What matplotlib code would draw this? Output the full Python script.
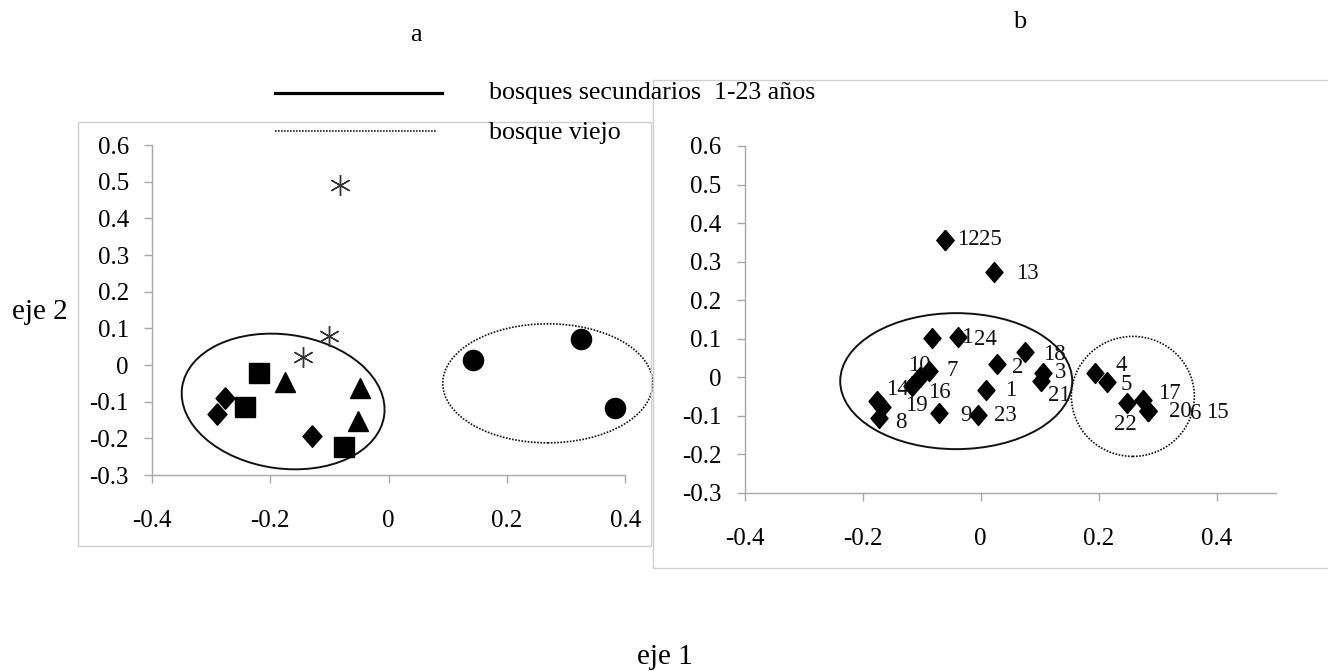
import matplotlib.pyplot as plt
from matplotlib.patches import Ellipse, Rectangle
from matplotlib.lines import Line2D
from matplotlib.transforms import ScaledTranslation

plt.rcParams['font.family'] = ['Liberation Serif', 'DejaVu Serif']

# panel a: groups of sites
star_x = [-0.082, -0.100, -0.145]
star_y = [0.491, 0.079, 0.023]
square_x = [-0.219, -0.242, -0.075]
square_y = [-0.023, -0.114, -0.223]
triangle_x = [-0.174, -0.048, -0.051]
triangle_y = [-0.047, -0.062, -0.152]
diamond_x = [-0.276, -0.289, -0.129]
diamond_y = [-0.091, -0.134, -0.194]
circle_x = [0.142, 0.325, 0.383]
circle_y = [0.014, 0.070, -0.116]

# panel b: labelled sites
b_labels = ['1', '2', '3', '4', '5', '6', '7', '8', '9', '10', '11', '12', '13',
            '14', '15', '16', '17', '18', '19', '20', '21', '22', '23', '24', '25']
b_x = [0.009, 0.028, 0.105, 0.194, 0.214, 0.283, -0.088, -0.173, -0.071, -0.102,
       -0.083, -0.060, 0.022, -0.175, 0.283, -0.116, 0.275, 0.075, -0.167, 0.283,
       0.102, 0.248, -0.005, -0.039, -0.060]
b_y = [-0.033, 0.034, 0.012, 0.012, -0.013, -0.087, 0.017, -0.105, -0.094, 0.000,
       0.102, 0.357, 0.273, -0.061, -0.087, -0.024, -0.059, 0.065, -0.077, -0.087,
       -0.009, -0.068, -0.098, 0.104, 0.357]

y_ticks = [-0.3, -0.2, -0.1, 0, 0.1, 0.2, 0.3, 0.4, 0.5, 0.6]
x_ticks = [-0.4, -0.2, 0, 0.2, 0.4]

# label offsets in pixels (right, down); default is a bit to the right
label_offset = {
    '12': (12, 0), '25': (34, 0), '11': (20, 0), '24': (16, 2), '13': (22, 2),
    '18': (18, 2), '2': (15, 3), '3': (12, 0), '21': (7, 15), '1': (19, 1),
    '23': (16, 1), '9': (21, 2), '7': (18, 0), '10': (-12, -12), '16': (16, 6),
    '14': (9, -11), '19': (23, -1), '8': (17, 5), '4': (20, -7), '5': (13, 2),
    '22': (-13, 21), '17': (15, -6), '20': (21, 1), '6': (42, 3), '15': (58, 2),
}

W, H = 1328, 671
fig = plt.figure(figsize=(W / 100, H / 100), dpi=100)

AXIS_GREY = '#a8a8a8'
FRAME_GREY = '#cfcfcf'


def fx(px):
    return px / W


def fy(py):
    return 1 - py / H


# panel frames
fig.patches.append(Rectangle((fx(78), fy(546)), fx(651) - fx(78), fy(122) - fy(546),
                             transform=fig.transFigure, fill=False,
                             edgecolor=FRAME_GREY, lw=1.0))
fig.patches.append(Rectangle((fx(653), fy(568)), fx(1400) - fx(653), fy(79.5) - fy(568),
                             transform=fig.transFigure, fill=False,
                             edgecolor=FRAME_GREY, lw=1.0))


def style_axes(ax, xmax):
    ax.set_xlim(-0.4, xmax)
    ax.set_ylim(-0.3, 0.6)
    ax.set_xticks(x_ticks)
    ax.set_yticks(y_ticks)
    ax.set_xticklabels(['%g' % t for t in x_ticks])
    ax.set_yticklabels(['%g' % t for t in y_ticks])
    for s in ['top', 'right']:
        ax.spines[s].set_visible(False)
    for s in ['left', 'bottom']:
        ax.spines[s].set_color(AXIS_GREY)
        ax.spines[s].set_linewidth(1.0)
    ax.tick_params(axis='both', direction='out', length=5.5, width=1.0,
                   color=AXIS_GREY, labelsize=18)
    ax.tick_params(axis='y', pad=11)
    ax.tick_params(axis='x', pad=20)
    ax.patch.set_alpha(0)


def add_ellipse(ax, cx, cy, w_px, h_px, angle, dotted):
    tr = fig.dpi_scale_trans + ScaledTranslation(cx, cy, ax.transData)
    e = Ellipse((0, 0), w_px / 100, h_px / 100, angle=angle, transform=tr,
                fill=False, edgecolor='#111111', clip_on=False,
                lw=1.2 if dotted else 1.4,
                linestyle=(0, (1, 0.9)) if dotted else '-')
    ax.add_patch(e)


# ---- panel a
ax_a = fig.add_axes([fx(151.7), fy(475), fx(625.3) - fx(151.7), fy(145) - fy(475)])
style_axes(ax_a, 0.4)

diamond_a = [(0, 1), (0.88, 0), (0, -1), (-0.88, 0), (0, 1)]
ax_a.plot(star_x, star_y, linestyle='none', marker=(6, 2, 0), markersize=15,
          markeredgecolor='#333333', markeredgewidth=1.0, clip_on=False)
ax_a.plot(square_x, square_y, linestyle='none', marker='s', markersize=14.5,
          color='black', clip_on=False)
ax_a.plot(triangle_x, triangle_y, linestyle='none', marker='^', markersize=14,
          color='black', clip_on=False)
ax_a.plot(diamond_x, diamond_y, linestyle='none', marker=diamond_a, markersize=15.5,
          color='black', clip_on=False)
ax_a.plot(circle_x, circle_y, linestyle='none', marker='o', markersize=14.5,
          color='black', clip_on=False)

add_ellipse(ax_a, -0.178, -0.0995, 204, 134, -8, dotted=False)
add_ellipse(ax_a, 0.269, -0.050, 210, 119, 0, dotted=True)

# ---- panel b
ax_b = fig.add_axes([fx(744.5), fy(492.7), fx(1276) - fx(744.5), fy(146) - fy(492.7)])
style_axes(ax_b, 0.5)

diamond_b = [(0, 1), (0.85, 0), (0, -1), (-0.85, 0), (0, 1)]
ax_b.plot(b_x, b_y, linestyle='none', marker=diamond_b, markersize=14.4,
          color='black', clip_on=False)
for lab, x, y in zip(b_labels, b_x, b_y):
    dx, dy = label_offset.get(lab, (17, 0))
    ax_b.annotate(lab, (x, y), xytext=(dx, -dy), textcoords='offset pixels',
                  ha='left', va='center', fontsize=16.5, color='#111111')

add_ellipse(ax_b, -0.0415, -0.0104, 232, 136, 0, dotted=False)
add_ellipse(ax_b, 0.2576, -0.050, 123, 120, 0, dotted=True)

# ---- legend drawn by hand at the top
fig.lines.append(Line2D([fx(275), fx(441.7)], [fy(92.7), fy(92.7)],
                        transform=fig.transFigure, color='black', lw=2.3))
fig.lines.append(Line2D([fx(275), fx(436.7)], [fy(131), fy(131)],
                        transform=fig.transFigure, color='#222222', lw=1.2,
                        linestyle=(0, (1, 0.8))))
fig.text(fx(489.3), fy(93.3), 'bosques secundarios  1-23 años', ha='left', va='center',
         fontsize=18.6)
fig.text(fx(489.3), fy(133.3), 'bosque viejo', ha='left', va='center', fontsize=18.6)

fig.text(fx(415.8), fy(35), 'a', ha='center', va='center', fontsize=19)
fig.text(fx(1020), fy(22), 'b', ha='center', va='center', fontsize=19)
fig.text(fx(11.7), fy(312), 'eje 2', ha='left', va='center', fontsize=21)
fig.text(fx(665), fy(657), 'eje 1', ha='center', va='center', fontsize=21)

fig.savefig('out.png', dpi=100, facecolor='white')
